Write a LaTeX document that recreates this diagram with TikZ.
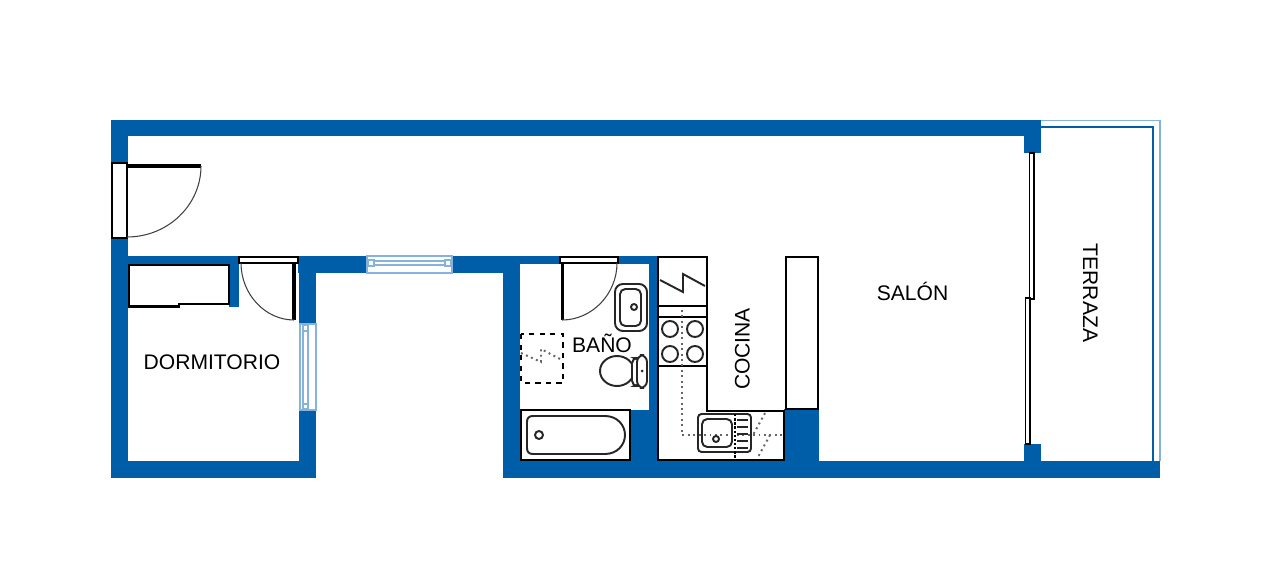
\documentclass[tikz,border=0pt]{standalone}
\usepackage{fontspec}
\setmainfont{Liberation Sans}
\definecolor{wallblue}{HTML}{005EA8}
\definecolor{glassblue}{HTML}{86B2DC}
\tikzset{
  wall/.style={fill=wallblue,draw=none},
  glass/.style={draw=glassblue,line width=0.6pt,fill=white},
  rail/.style={draw=wallblue,line width=1.2pt},
  frame/.style={draw=black,line width=1.35pt,fill=white},
  leaf/.style={draw=black,line width=1.8pt},
  fixture/.style={draw=black!85,line width=1.1pt,fill=white},
  swing/.style={draw=black!75,line width=0.6pt},
  hidden/.style={draw=black!60,line width=1.1pt,dotted},
  room/.style={anchor=base,font=\fontsize{12}{14}\selectfont,text=black,inner sep=0pt}
}
\begin{document}
\begin{tikzpicture}[x=0.02cm,y=-0.02cm]
  \useasboundingbox (0,0) rectangle (1280,587);
  % walls
  \fill[wall] (111,120) rectangle (1041,136);
  \fill[wall] (111,120) rectangle (128,478);
  \fill[wall] (111,461) rectangle (316,478);
  \fill[wall] (128,256) rectangle (239,265);
  \fill[wall] (229,265) rectangle (239,307);
  \fill[wall] (298,256) rectangle (367,273);
  \fill[wall] (299,256) rectangle (316,324);
  \fill[wall] (299,410) rectangle (316,478);
  \fill[wall] (452,256) rectangle (520,273);
  \fill[wall] (503,256) rectangle (520,478);
  \fill[wall] (520,256) rectangle (658,264);
  \fill[wall] (649,256) rectangle (658,461);
  \fill[wall] (630,410) rectangle (658,461);
  \fill[wall] (503,461) rectangle (1160,478);
  \fill[wall] (784,409) rectangle (819,461);
  \fill[wall] (1024,120) rectangle (1041,153);
  \fill[wall] (1024,444) rectangle (1041,461);
  % terrace rails
  \draw[draw=glassblue,line width=1.1pt] (1041,120.5) -- (1160,120.5) -- (1160,461);
  \draw[rail] (1041,127) -- (1153,127) -- (1153,461);
  % windows
  \draw[glass] (367,256) rectangle (452,273);
  \draw[glass] (368,260) rectangle (374,266);
  \draw[glass] (445,260) rectangle (451,266);
  \draw[glass] (374,261) rectangle (445,265);
  \draw[glass] (300,324) rectangle (316,410);
  \draw[glass] (303,325) rectangle (308,331);
  \draw[glass] (303,404) rectangle (308,409);
  \draw[glass] (303,331) rectangle (308,404);
  % entrance door
  \draw[frame] (112,163) rectangle (127,238);
  \draw[leaf] (127,166) -- (201,166);
  \draw[swing] (201,166) .. controls (201,205) and (168,237) .. (127,237);
  % bedroom door
  \draw[frame] (239,257) rectangle (298,263);
  \draw[leaf] (294,263) -- (294,320);
  \draw[swing] (241,263) .. controls (241,294) and (265,320) .. (294,320);
  % bathroom door
  \draw[frame] (560,257) rectangle (618,263);
  \draw[leaf] (562.5,263) -- (562.5,320);
  \draw[swing] (617,263) .. controls (617,294) and (592,320) .. (562,320);
  % wardrobe in bedroom
  \draw[frame] (129,265) -- (229,265) -- (229,304) -- (179,304) -- (179,306.5) -- (129,306.5) -- cycle;
  % bathroom
  \draw[frame] (521,410) rectangle (630,460);
  \draw[fixture] (533,416) -- (605,416) .. controls (617,416) and (625,425) .. (625,435)
    .. controls (625,445) and (617,454) .. (605,454) -- (533,454)
    .. controls (529,454) and (527,452) .. (527,448) -- (527,422)
    .. controls (527,418) and (529,416) .. (533,416) -- cycle;
  \draw[fixture] (539,435) circle (4);
  \draw[fixture,rounded corners=4.5pt] (615,284) rectangle (647,331);
  \draw[fixture,rounded corners=3pt] (620,289) rectangle (641,326);
  \draw[fixture] (634,307) circle (3);
  \draw[fixture] (617,371) ellipse (17 and 15);
  \draw[fixture,rounded corners=3pt] (632,358) rectangle (640,386);
  \draw[fixture,rounded corners=4pt] (637,355) rectangle (647,388);
  \fill[black!85] (642,371) circle (1.5);
  % shower
  \draw[draw=black,line width=1.35pt,dashed] (521,334) rectangle (563,383);
  \draw[hidden] (521,353) -- (541,362) -- (541,349) -- (562,360);
  % kitchen units
  \draw[frame] (658,257) -- (707,257) -- (707,411) -- (784,411) -- (784,460) -- (658,460) -- cycle;
  \draw[frame] (658,306) -- (707,306);
  \draw[frame] (658,317) -- (707,317);
  \draw[frame] (658,366) -- (707,366);
  \draw[draw=black!85,line width=1.1pt] (660,280) -- (683,292) -- (683,274) -- (705,286);
  \draw[fixture] (670,329) circle (8);
  \draw[fixture] (695,329) circle (8);
  \draw[fixture] (670,354) circle (8);
  \draw[fixture] (695,354) circle (8);
  \draw[hidden] (682,310) -- (682,435) -- (783,435);
  \draw[hidden] (765,413) -- (753,435);
  \draw[hidden] (770,435) -- (758,457);
  \draw[fixture,fill=none,rounded corners=2pt] (698,414) rectangle (751,452);
  \draw[fixture,fill=none,rounded corners=3pt] (702,419) rectangle (732,447);
  \draw[fixture,fill=none] (716,439) circle (3);
  \draw[draw=black,line width=1.35pt,densely dotted] (735,414) -- (735,460);
  \draw[fixture] (737,420) -- (748,420);
  \draw[fixture] (737,427) -- (748,427);
  \draw[fixture] (737,434) -- (748,434);
  \draw[fixture] (737,441) -- (748,441);
  \draw[fixture] (737,448) -- (748,448);
  % tall cupboard
  \draw[frame] (786,257) rectangle (818,409);
  % sliding door
  \draw[draw=black,line width=1.1pt,fill=white] (1029.5,153) rectangle (1034,299);
  \draw[draw=black,line width=1.1pt,fill=white] (1025.5,298) rectangle (1030,444);
  % rooms
  \node[room] (dormitorio) at (212,369) {DORMITORIO};
  \node[room] (bano) at (602,352) {BAÑO};
  \node[room,rotate=90] (cocina) at (749.5,349) {COCINA};
  \node[room] (salon) at (912.5,300.5) {SALÓN};
  \node[room,rotate=-90] (terraza) at (1083,293) {TERRAZA};
\end{tikzpicture}
\end{document}
